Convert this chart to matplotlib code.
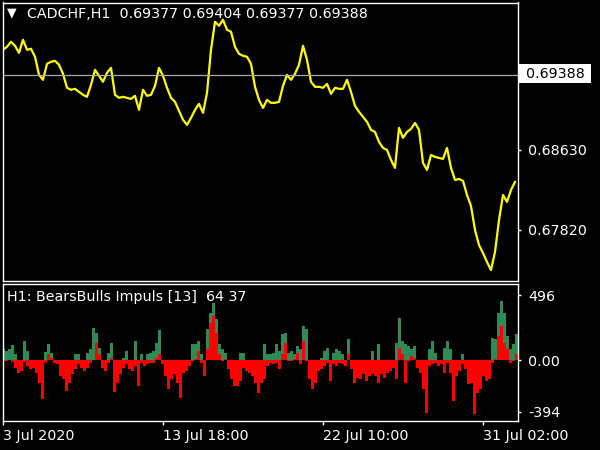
import numpy as np
import matplotlib
matplotlib.use("Agg")
import matplotlib.pyplot as plt
from matplotlib.patches import Rectangle

# цена закрытия CADCHF H1 (каждый 4-й бар)
price_x = list(range(3, 516, 4))
price = [
    0.69643, 0.69673, 0.69724, 0.69683, 0.69612, 0.69744, 0.69643, 0.69653,
    0.69572, 0.69389, 0.69339, 0.69501, 0.69521, 0.69531, 0.69491, 0.69400,
    0.69258, 0.69238, 0.69248, 0.69217, 0.69187, 0.69167, 0.69288, 0.69440,
    0.69379, 0.69319, 0.69410, 0.69460, 0.69187, 0.69157, 0.69167, 0.69157,
    0.69146, 0.69177, 0.69035, 0.69238, 0.69177, 0.69187, 0.69278, 0.69460,
    0.69379, 0.69258, 0.69157, 0.69116, 0.69025, 0.68934, 0.68883, 0.68954,
    0.69035, 0.69096, 0.69005, 0.69207, 0.69643, 0.69926, 0.69886, 0.69946,
    0.69845, 0.69825, 0.69673, 0.69602, 0.69582, 0.69572, 0.69501, 0.69268,
    0.69136, 0.69055, 0.69136, 0.69106, 0.69106, 0.69116, 0.69278, 0.69389,
    0.69339, 0.69400, 0.69491, 0.69683, 0.69541, 0.69319, 0.69268, 0.69268,
    0.69258, 0.69298, 0.69197, 0.69258, 0.69248, 0.69248, 0.69339, 0.69217,
    0.69076, 0.69015, 0.68964, 0.68914, 0.68833, 0.68812, 0.68711, 0.68650,
    0.68630, 0.68529, 0.68448, 0.68853, 0.68752, 0.68812, 0.68843, 0.68903,
    0.68833, 0.68498, 0.68428, 0.68579, 0.68559, 0.68549, 0.68539, 0.68650,
    0.68448, 0.68326, 0.68336, 0.68316, 0.68174, 0.68063, 0.67820, 0.67668,
    0.67587, 0.67496, 0.67415, 0.67597, 0.67921, 0.68174, 0.68104, 0.68225,
    0.68306,
]

# BearsBulls Impuls (каждый 3-й бар)
hist_x = list(range(3, 517, 3))
bulls = [
    82, 69, 82, 112, 43, 0, 0, 145, 69, 0, 0, 0, 0, 0, 61, 120, 56, 0, 0, 0,
    0, 0, 0, 0, 43, 43, 0, 0, 56, 82, 244, 206, 94, 0, 0, 56, 132, 0, 0, 0,
    18, 69, 0, 0, 145, 0, 43, 0, 43, 56, 69, 132, 229, 0, 0, 0, 0, 0, 0, 0,
    0, 0, 0, 120, 120, 145, 43, 0, 234, 359, 435, 311, 120, 82, 56, 0, 0, 0, 0, 56,
    56, 0, 0, 0, 0, 0, 0, 120, 43, 43, 56, 120, 69, 196, 208, 56, 69, 43, 107, 82,
    259, 234, 0, 0, 0, 0, 18, 69, 94, 0, 56, 82, 69, 43, 0, 158, 0, 0, 0, 0,
    0, 0, 0, 69, 0, 120, 0, 0, 0, 0, 0, 132, 323, 145, 120, 107, 82, 107, 0, 0,
    0, 0, 82, 145, 56, 0, 0, 94, 145, 82, 0, 0, 0, 43, 0, 0, 0, 0, 0, 0,
    0, 0, 0, 170, 158, 359, 450, 359, 183, 82, 120, 196,
]
bears = [
    -15, -8, 0, -15, -59, -97, -84, -15, -46, -69, -59, -97, -173, -298, -21, 43, 15, -21, -33, -122,
    -145, -237, -173, -109, -71, -33, -59, -84, -59, -21, 0, 132, 43, -59, -84, -21, 18, -244, -173, -109,
    -59, -33, -71, -84, -46, -198, -21, -46, -33, -21, -21, 18, 43, -33, -122, -221, -145, -109, -173, -288,
    -97, -84, -46, -8, 5, 69, -21, -122, 82, 285, 336, 208, 43, -8, 5, -71, -145, -198, -198, -160,
    -59, -84, -97, -122, -173, -249, -173, -145, -46, -21, -33, -21, -71, 43, 132, -8, -8, 5, 56, -33,
    145, -8, -145, -224, -173, -84, -71, -46, -21, -160, -33, -46, -21, -33, -46, 43, -71, -173, -135, -145,
    -109, -160, -122, -109, -122, -173, -109, -135, -97, -84, -59, -145, 94, 43, -173, -8, 31, 18, -59, -97,
    -224, -402, -46, -33, -21, -46, -33, -97, -21, -97, -313, -122, -84, -33, -71, -185, -173, -412, -249, -224,
    -122, -160, -145, -21, 5, 183, 259, 132, 82, -21, -8, 43,
]

tick_pos = [3, 163, 323, 483]
tick_lbl = ['3 Jul 2020', '13 Jul 18:00', '22 Jul 10:00', '31 Jul 02:00']
last_price = 0.69388

plt.rcParams['font.family'] = ['DejaVu Sans']
fs = 10.3
W, H = 600, 450
fig = plt.figure(figsize=(6, 4.5), dpi=100, facecolor='black')

def box(x0, y0, x1, y1):
    return [x0 / W, 1 - y1 / H, (x1 - x0) / W, (y1 - y0) / H]

ax1 = fig.add_axes(box(2.5, 2.5, 518, 281))
ax2 = fig.add_axes(box(2.5, 283.5, 518, 421))

for ax in (ax1, ax2):
    ax.set_facecolor('black')
    for s in ax.spines.values():
        s.set_color('white')
        s.set_linewidth(1)
    ax.set_xlim(2.5, 518)
    ax.yaxis.tick_right()
    ax.tick_params(axis='y', colors='white', length=2.5, width=1, pad=5, labelsize=fs)

# верхняя панель: цена
ax1.plot(price_x, price, color='yellow', lw=1.6)
ax1.axhline(last_price, color='#a8a8a8', lw=0.9)
ax1.set_ylim(0.67304, 0.70121)
ax1.set_yticks([0.67820, 0.68630])
ax1.set_yticklabels(['0.67820', '0.68630'])
ax1.set_xticks([])

# метка текущей цены
fig.patches.append(Rectangle((519 / W, 1 - 83 / H), 72 / W, 19 / H,
                             transform=fig.transFigure, fc='white', ec='none'))
fig.text(555 / W, 1 - 73.5 / H, '0.69388', color='black', fontsize=fs,
         ha='center', va='center')

# нижняя панель: гистограмма
ax2.bar(hist_x, bulls, width=3, color='#2e8b57', linewidth=0)
ax2.bar(hist_x, bears, width=3, color='#ff0000', linewidth=0)
ax2.set_ylim(-465, 584)
ax2.set_yticks([-394, 0, 496])
ax2.set_yticklabels(['-394', '0.00', '496'])
ax2.set_xticks(tick_pos)
ax2.set_xticklabels(tick_lbl, ha='left')
ax2.tick_params(axis='x', colors='white', length=3, width=1, pad=3, labelsize=fs)

fig.text(7 / W, 1 - 13 / H, '▼', color='white', fontsize=9, va='center')
fig.text(27 / W, 1 - 14 / H, 'CADCHF,H1  0.69377 0.69404 0.69377 0.69388',
         color='white', fontsize=fs, va='center')
fig.text(7 / W, 1 - 297 / H, 'H1: BearsBulls Impuls [13]  64 37',
         color='white', fontsize=fs, va='center')

fig.savefig('out.png', dpi=100, facecolor='black')
